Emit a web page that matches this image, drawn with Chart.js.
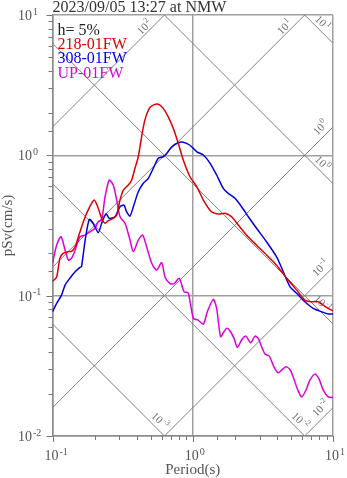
<!DOCTYPE html>
<html lang="en">
<head>
<meta charset="UTF-8">
<script src="https://cdn.jsdelivr.net/npm/chart.js@4.4.0/dist/chart.umd.min.js"></script>
<title>pSv spectrum</title>
<style>
  body { margin: 0; background: #fff; }
</style>
</head>
<body>
<canvas id="spec" width="347" height="478"></canvas>
<script>
var titleText = '2023/09/05 13:27 at NMW';
var dampText = 'h= 5%';
var names = ['218-01FW', '308-01FW', 'UP-01FW'];
var colours = ['#dd0000', '#0000dd', '#dd00dd'];

// periods (s) and pSv (cm/s)
var per218 = [0.1, 0.107, 0.113, 0.119, 0.130, 0.137, 0.145, 0.153, 0.166, 0.175, 0.190, 0.199, 0.210, 0.224, 0.237, 0.250, 0.271, 0.287, 0.303, 0.320, 0.347, 0.367, 0.387, 0.409, 0.432, 0.456, 0.490, 0.523, 0.568, 0.616, 0.669, 0.726, 0.788, 0.856, 0.955, 1.07, 1.19, 1.36, 1.52, 1.70, 1.89, 2.11, 2.42, 2.85, 3.36, 3.96, 4.67, 5.50, 6.30, 7.04, 7.85, 8.52, 9.24, 10];
var val218 = [0.126, 0.136, 0.185, 0.200, 0.206, 0.207, 0.223, 0.263, 0.336, 0.386, 0.455, 0.480, 0.430, 0.356, 0.328, 0.342, 0.356, 0.376, 0.480, 0.566, 0.614, 0.667, 0.808, 0.977, 1.36, 1.79, 2.16, 2.28, 2.31, 2.16, 1.88, 1.56, 1.22, 0.926, 0.704, 0.597, 0.480, 0.396, 0.382, 0.386, 0.365, 0.319, 0.270, 0.229, 0.195, 0.165, 0.133, 0.110, 0.093, 0.0905, 0.0905, 0.0857, 0.0812, 0.078];

var per308 = [0.1, 0.107, 0.116, 0.123, 0.133, 0.145, 0.157, 0.161, 0.171, 0.183, 0.195, 0.212, 0.224, 0.241, 0.254, 0.279, 0.303, 0.323, 0.338, 0.357, 0.377, 0.409, 0.444, 0.482, 0.523, 0.568, 0.616, 0.652, 0.708, 0.788, 0.856, 0.955, 1.07, 1.19, 1.33, 1.48, 1.65, 1.79, 2.00, 2.23, 2.49, 2.85, 3.36, 3.96, 4.42, 4.93, 5.50, 6.30, 7.23, 8.30, 9.24, 10];
var val308 = [0.0768, 0.0881, 0.101, 0.119, 0.133, 0.148, 0.159, 0.161, 0.249, 0.350, 0.328, 0.281, 0.328, 0.382, 0.356, 0.365, 0.430, 0.442, 0.396, 0.369, 0.430, 0.550, 0.632, 0.686, 0.808, 0.952, 0.977, 1.03, 1.15, 1.23, 1.24, 1.18, 1.06, 1.005, 0.877, 0.724, 0.582, 0.536, 0.494, 0.430, 0.365, 0.302, 0.242, 0.189, 0.148, 0.116, 0.104, 0.0905, 0.0812, 0.0768, 0.074, 0.074];

var perUP = [0.1, 0.107, 0.115, 0.123, 0.130, 0.137, 0.145, 0.157, 0.171, 0.185, 0.201, 0.212, 0.224, 0.237, 0.254, 0.271, 0.287, 0.303, 0.329, 0.357, 0.377, 0.409, 0.439, 0.469, 0.510, 0.553, 0.600, 0.634, 0.688, 0.738, 0.801, 0.866, 0.929, 1.01, 1.09, 1.19, 1.27, 1.40, 1.48, 1.58, 1.67, 1.75, 1.84, 1.97, 2.08, 2.23, 2.39, 2.59, 2.78, 2.93, 3.10, 3.27, 3.51, 3.79, 4.07, 4.30, 4.62, 4.93, 5.20, 5.56, 5.97, 6.41, 6.84, 7.43, 7.97, 8.52, 9.24, 10];
var valUP = [0.170, 0.229, 0.263, 0.211, 0.179, 0.185, 0.211, 0.263, 0.270, 0.285, 0.302, 0.336, 0.346, 0.507, 0.667, 0.614, 0.480, 0.365, 0.328, 0.249, 0.206, 0.249, 0.270, 0.223, 0.170, 0.152, 0.172, 0.136, 0.122, 0.122, 0.133, 0.107, 0.104, 0.0689, 0.067, 0.0627, 0.0768, 0.0941, 0.0812, 0.051, 0.0553, 0.0585, 0.0562, 0.0496, 0.0428, 0.0483, 0.0515, 0.0462, 0.0515, 0.0496, 0.0432, 0.0384, 0.0371, 0.0311, 0.0282, 0.0295, 0.0311, 0.0298, 0.0264, 0.0218, 0.019, 0.0212, 0.025, 0.0276, 0.0253, 0.0212, 0.019, 0.0188];

// tripartite guide lines
var dispLines = [10, 1, 0.1, 0.01, 0.001];   // displacement, cm
var accLines = [100, 10, 1, 0.1, 0.01];      // acceleration, cm/s2

var serif = '"Liberation Serif", "Times New Roman", serif';

function pts(p, v) {
    return p.map(function (t, i) { return { x: t, y: v[i] }; });
}

function isDecade(v) {
    var l = Math.log10(v);
    return Math.abs(l - Math.round(l)) < 1e-6;
}

// "10" with a raised exponent, x = left edge of the base
function powText(ctx, x, y, exp, big, small) {
    ctx.font = big + 'px ' + serif;
    ctx.fillText('10', x, y);
    var w = ctx.measureText('10').width;
    ctx.font = small + 'px ' + serif;
    ctx.fillText(String(exp), x + w + 1, y - big * 0.38);
}
function powWidth(ctx, exp, big, small) {
    ctx.font = big + 'px ' + serif;
    var w = ctx.measureText('10').width;
    ctx.font = small + 'px ' + serif;
    return w + 1 + ctx.measureText(String(exp)).width;
}

var decor = {
    id: 'decor',
    beforeDatasetsDraw: function (chart) {
        var ctx = chart.ctx, a = chart.chartArea;
        var xs = chart.scales.x, ys = chart.scales.y;
        ctx.save();
        ctx.beginPath();
        ctx.rect(a.left, a.top, a.right - a.left, a.bottom - a.top);
        ctx.clip();
        ctx.strokeStyle = '#808080';
        ctx.lineWidth = 1;
        dispLines.forEach(function (d) {
            ctx.beginPath();
            ctx.moveTo(xs.getPixelForValue(0.1), ys.getPixelForValue(2 * Math.PI * d / 0.1));
            ctx.lineTo(xs.getPixelForValue(10), ys.getPixelForValue(2 * Math.PI * d / 10));
            ctx.stroke();
        });
        accLines.forEach(function (acc) {
            ctx.beginPath();
            ctx.moveTo(xs.getPixelForValue(0.1), ys.getPixelForValue(acc * 0.1 / (2 * Math.PI)));
            ctx.lineTo(xs.getPixelForValue(10), ys.getPixelForValue(acc * 10 / (2 * Math.PI)));
            ctx.stroke();
        });
        ctx.restore();

        // labels on the guide lines
        ctx.save();
        ctx.fillStyle = '#707070';
        ctx.textBaseline = 'middle';
        accLines.forEach(function (acc) {
            var e = Math.round(Math.log10(acc)), cx, cy;
            var tTop = 2 * Math.PI * 10 / acc;
            if (tTop <= 10) {
                var xe = xs.getPixelForValue(tTop);
                cy = a.top + 12.5;
                cx = xe - (cy - a.top) - 7;
            } else {
                var ye = ys.getPixelForValue(acc * 10 / (2 * Math.PI));
                cx = a.right - 12;
                cy = ye + 12 - 11;
            }
            ctx.save();
            ctx.translate(cx, cy);
            ctx.rotate(-Math.PI / 4);
            var w = powWidth(ctx, e, 11, 8);
            powText(ctx, -w / 2, 0, e, 11, 8);
            ctx.restore();
        });
        dispLines.forEach(function (d) {
            var e = Math.round(Math.log10(d)), cx, cy;
            var vR = 2 * Math.PI * d / 10;
            if (vR >= 0.01) {
                var ye = ys.getPixelForValue(vR);
                cx = a.right - 11;
                cy = ye - 11 - 9;
            } else {
                var xe = xs.getPixelForValue(2 * Math.PI * d / 0.01);
                cy = a.bottom - 15;
                cx = xe - 15 + 10;
            }
            ctx.save();
            ctx.translate(cx, cy);
            ctx.rotate(Math.PI / 4);
            var w = powWidth(ctx, e, 11, 8);
            powText(ctx, -w / 2, 0, e, 11, 8);
            ctx.restore();
        });
        ctx.restore();
    },
    afterDraw: function (chart) {
        var ctx = chart.ctx, a = chart.chartArea;
        var xs = chart.scales.x, ys = chart.scales.y;
        ctx.save();
        // tick marks
        ctx.strokeStyle = '#777';
        ctx.lineWidth = 1;
        xs.ticks.forEach(function (t) {
            var p = Math.round(xs.getPixelForValue(t.value)) + 0.5;
            var len = isDecade(t.value) ? 6 : 4;
            ctx.beginPath();
            ctx.moveTo(p, a.bottom);
            ctx.lineTo(p, a.bottom + len);
            ctx.stroke();
        });
        ys.ticks.forEach(function (t) {
            var p = Math.round(ys.getPixelForValue(t.value)) + 0.5;
            var len = isDecade(t.value) ? 6 : 4;
            ctx.beginPath();
            ctx.moveTo(a.left, p);
            ctx.lineTo(a.left - len, p);
            ctx.stroke();
        });

        // tick labels
        ctx.fillStyle = '#555';
        ctx.textBaseline = 'alphabetic';
        ctx.textAlign = 'left';
        xs.ticks.forEach(function (t) {
            if (!isDecade(t.value)) return;
            var e = Math.round(Math.log10(t.value));
            ctx.font = '14px ' + serif;
            var bw = ctx.measureText('10').width;
            powText(ctx, xs.getPixelForValue(t.value) - bw / 2 - 1, 460, e, 14, 10);
        });
        ys.ticks.forEach(function (t) {
            if (!isDecade(t.value)) return;
            var e = Math.round(Math.log10(t.value));
            ctx.font = '14px ' + serif;
            var bw = ctx.measureText('10').width;
            powText(ctx, 32 - bw, ys.getPixelForValue(t.value) + 5, e, 14, 10);
        });

        // axis titles
        ctx.font = '15px ' + serif;
        ctx.textAlign = 'center';
        ctx.fillText('Period(s)', (a.left + a.right) / 2, 474);
        ctx.save();
        ctx.translate(12, (a.top + a.bottom) / 2);
        ctx.rotate(-Math.PI / 2);
        ctx.fillText('pSv(cm/s)', 0, 0);
        ctx.restore();

        // title
        ctx.textAlign = 'left';
        ctx.fillStyle = '#333';
        ctx.font = '16px ' + serif;
        ctx.fillText(titleText, a.left, 12);

        // legend text
        ctx.fillStyle = '#222';
        ctx.fillText(dampText, a.left + 5, 34.5);
        chart.data.datasets.forEach(function (ds, i) {
            ctx.fillStyle = ds.borderColor;
            ctx.fillText(ds.label, a.left + 5, 49 + i * 14.4);
        });
        ctx.restore();
    }
};

var chartDiv = document.getElementById('spec');
var myChart = new Chart(chartDiv, {
    type: 'line',
    data: {
        datasets: [
            { label: names[0], data: pts(per218, val218), borderColor: colours[0] },
            { label: names[1], data: pts(per308, val308), borderColor: colours[1] },
            { label: names[2], data: pts(perUP, valUP), borderColor: colours[2] }
        ]
    },
    options: {
        responsive: false,
        animation: false,
        devicePixelRatio: 1,
        layout: { padding: { top: 15, right: 14, left: 0, bottom: 0 } },
        elements: {
            point: { radius: 0 },
            line: { borderWidth: 1.5, tension: 0.25, fill: false }
        },
        plugins: { legend: { display: false }, tooltip: { enabled: false } },
        scales: {
            x: {
                type: 'logarithmic', min: 0.1, max: 10,
                ticks: { display: false },
                grid: {
                    drawTicks: false, lineWidth: 1.5,
                    color: function (c) { return c.tick && isDecade(c.tick.value) ? '#a0a0a0' : 'rgba(0,0,0,0)'; }
                },
                border: { display: true, color: '#8a8a8a', width: 1.5 },
                afterFit: function (s) { s.height = 42; }
            },
            y: {
                type: 'logarithmic', min: 0.01, max: 10,
                ticks: { display: false },
                grid: {
                    drawTicks: false, lineWidth: 1.5,
                    color: function (c) { return c.tick && isDecade(c.tick.value) ? '#a0a0a0' : 'rgba(0,0,0,0)'; }
                },
                border: { display: true, color: '#8a8a8a', width: 1.5 },
                afterFit: function (s) { s.width = 52.5; }
            }
        }
    },
    plugins: [decor]
});
</script>
</body>
</html>
